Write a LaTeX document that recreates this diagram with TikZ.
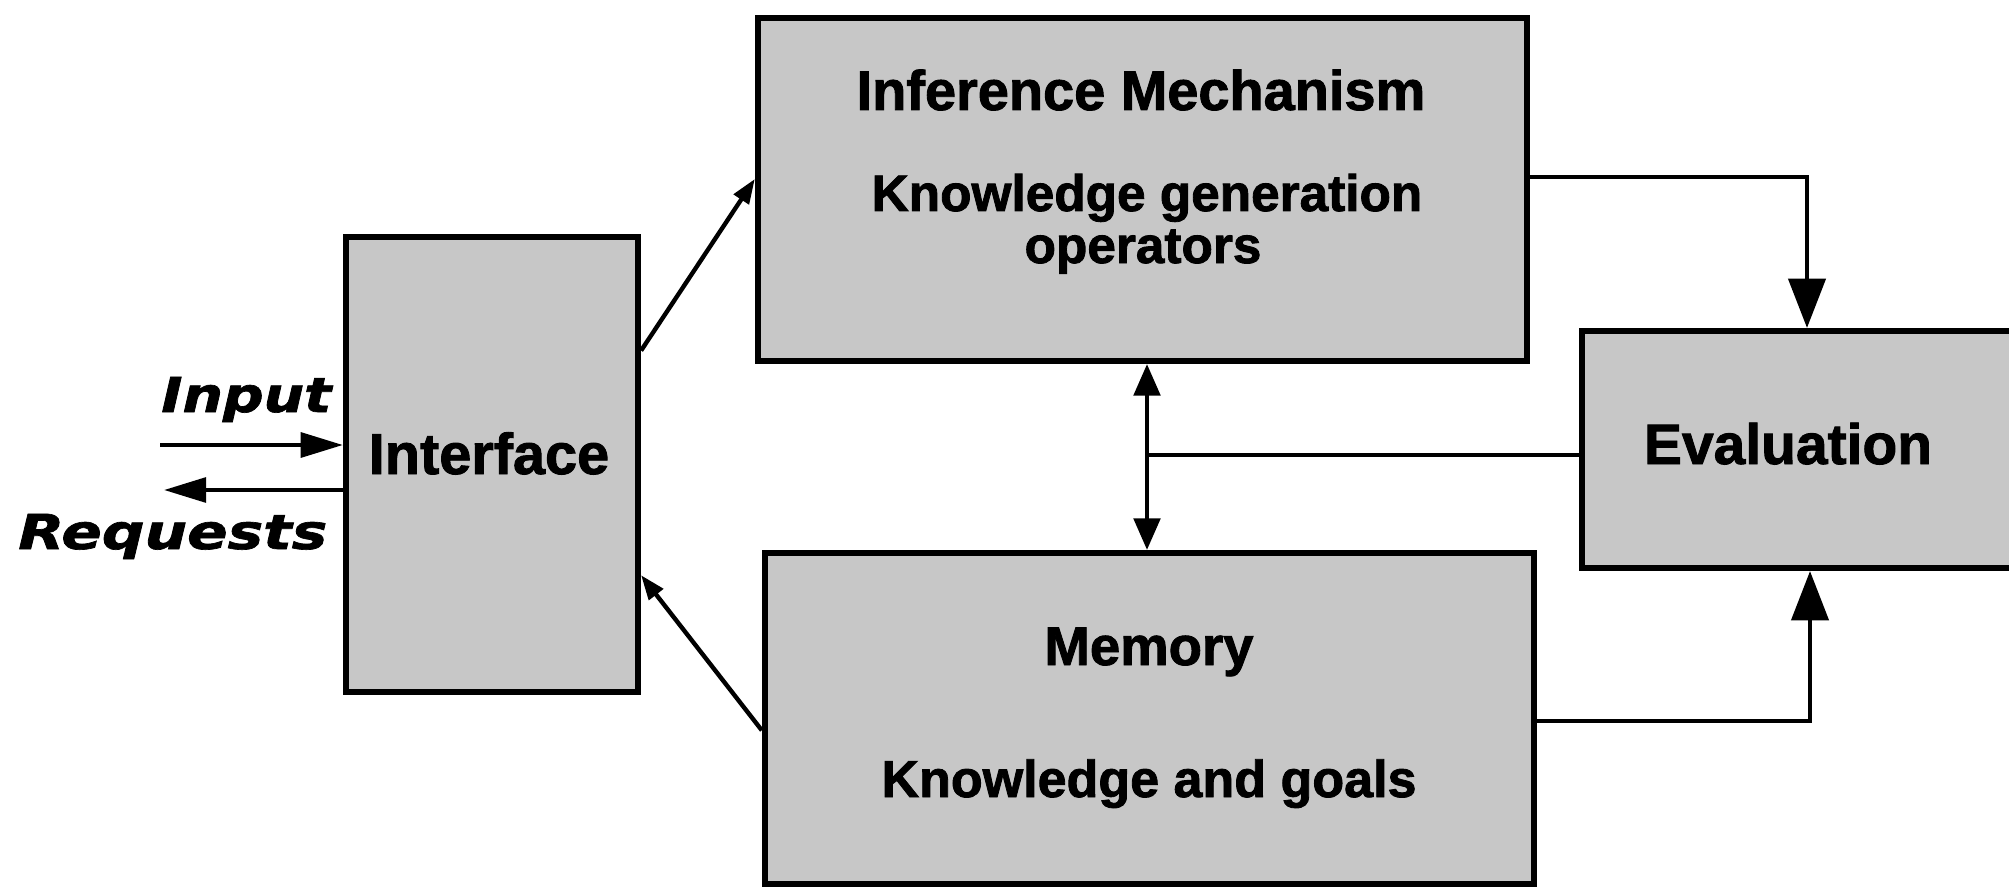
\documentclass[tikz,border=0pt]{standalone}
\usepackage{fontspec}
\usepackage{graphicx}
\setmainfont{Liberation Sans}[BoldFeatures={FakeBold=1.6}]
\newfontfamily\sidefont{DejaVu Sans}[BoldItalicFeatures={FakeBold=1.4}]
\usetikzlibrary{arrows.meta,calc}

\definecolor{stipple}{gray}{0.78}

\newcommand{\fs}[1]{\fontsize{#1}{#1}\selectfont\bfseries}

\tikzset{
  block/.style={draw=black, line width=1.7pt, fill=stipple, inner sep=0pt},
  caption/.style={anchor=base, inner sep=0pt},
  wire/.style={line width=1.25pt},
  bigtip/.style={-{Triangle[length=14pt,width=10.5pt]}},
  sidetip/.style={-{Triangle[length=12pt,width=7pt]}},
  smalltip/.style={-{Triangle[length=7pt,width=5pt]}},
  dbltip/.style={{Triangle[length=9pt,width=7.5pt]}-{Triangle[length=9pt,width=7.5pt]}},
  sidelabel/.style={anchor=base east, inner sep=0pt, font=\sidefont\bfseries\itshape\fontsize{13.7}{14}\selectfont}
}

\begin{document}
\begin{tikzpicture}[x=0.01cm, y=-0.01cm]
  \useasboundingbox (0,0) rectangle (2009,891);
  \clip (0,0) rectangle (2009,891);

  % boxes
  \node[block, minimum width=2.92cm, minimum height=4.55cm] (iface) at (492,464.5) {};
  \node[block, minimum width=7.69cm, minimum height=3.43cm] (inf) at (1142.5,189.5) {};
  \node[block, minimum width=7.69cm, minimum height=3.31cm] (mem) at (1149.5,718.5) {};
  \node[block, minimum width=4.33cm, minimum height=2.37cm] (eval) at (1798.5,449.5) {};

  % box captions
  \node[caption, font=\fs{16.4}] (ifacetext) at (489,474) {Interface};
  \node[caption, font=\fs{15.9}] (infhead) at (1141,110) {Inference Mechanism};
  \node[caption, font=\fs{14.6}] (infline1) at (1147,211) {Knowledge generation};
  \node[caption, font=\fs{14.6}] (infline2) at (1143,263) {operators};
  \node[caption, font=\fs{15.5}] (memhead) at (1149,665) {Memory};
  \node[caption, font=\fs{14.8}] (memline) at (1149,797) {Knowledge and goals};
  \node[caption, font=\fs{16.2}] (evaltext) at (1788,464) {Evaluation};

  % outside labels
  \node[sidelabel] (inputtext) at (332,412) {\scalebox{1.18}[1]{Input}};
  \node[sidelabel] (reqtext) at (328,549) {\scalebox{1.24}[1]{Requests}};

  % input and requests
  \coordinate (inL) at (160,445);
  \coordinate (reqL) at (164,490);
  \draw[wire, sidetip] (inL) -- (inL -| iface.west);
  \draw[wire, sidetip] (reqL -| iface.west) -- (reqL);

  % diagonal links
  \draw[wire, smalltip] ($(iface.north east)!0.253!(iface.south east)$) -- ($(inf.north west)!0.47!(inf.south west)$);
  \draw[wire, smalltip] ($(mem.north west)!0.535!(mem.south west)$) -- ($(iface.north east)!0.74!(iface.south east)$);

  % feeds into evaluation
  \coordinate (topbend) at (1807,177);
  \coordinate (botbend) at (1810,721);
  \draw[wire, bigtip] (inf.east |- topbend) -- (topbend) -- (topbend |- eval.north);
  \draw[wire, bigtip] (mem.east |- botbend) -- (botbend) -- (botbend |- eval.south);

  % evaluation feedback to the inference/memory link
  \coordinate (junc) at (1147,455);
  \draw[wire] (eval.west |- junc) -- (junc);
  \draw[wire, dbltip] (junc |- inf.south) -- (junc |- mem.north);
\end{tikzpicture}
\end{document}
